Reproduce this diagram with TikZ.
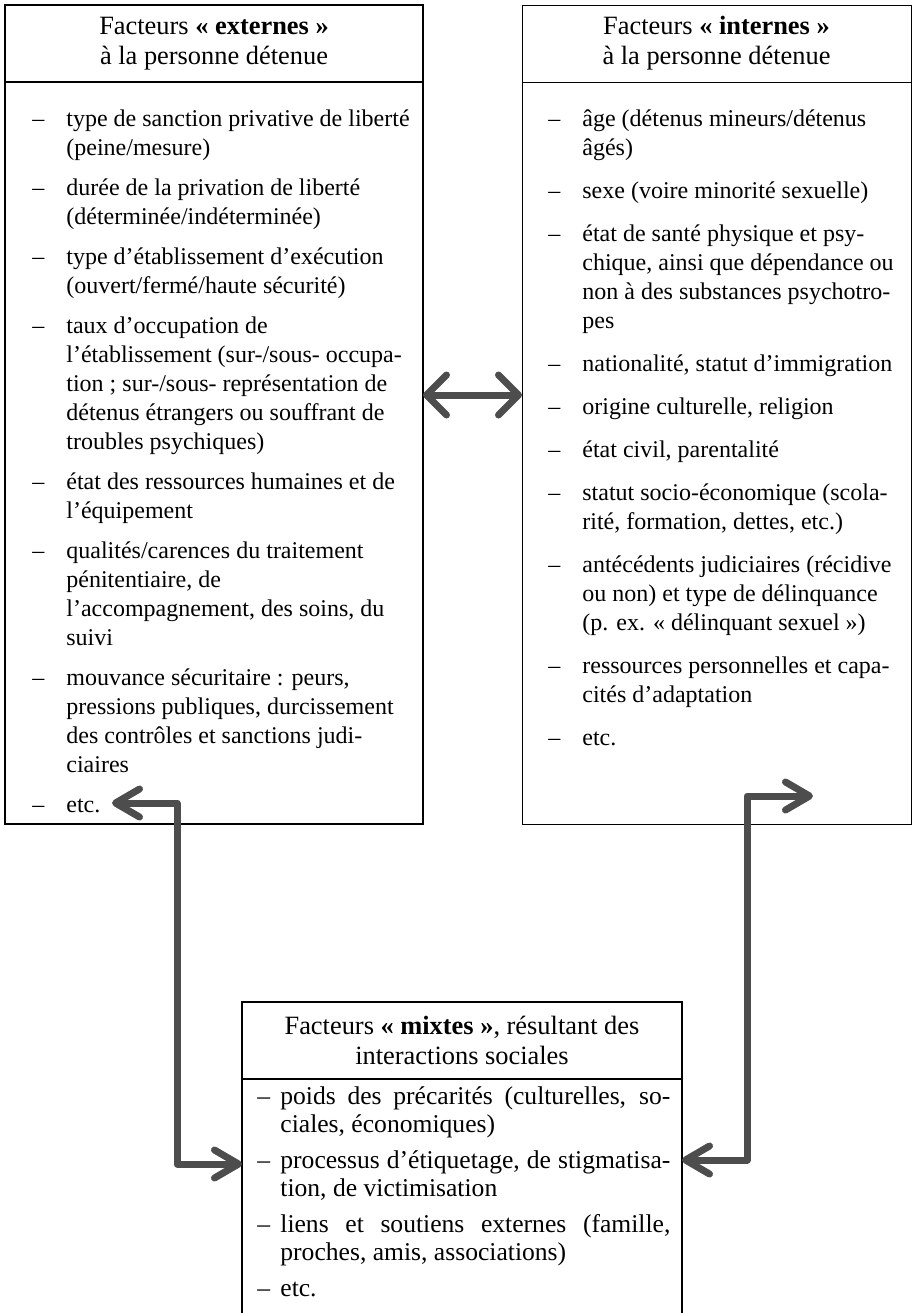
\documentclass[tikz,border=0pt]{standalone}
\usepackage{fontspec}
\setmainfont{Liberation Serif}
\usetikzlibrary{arrows.meta,calc}
\definecolor{arrowgray}{HTML}{4D4D4D}
\newcommand\dI{\makebox[17pt][l]{–}}
\newcommand\dC{\makebox[17pt][l]{}}
\newcommand\dM{\makebox[11.5pt][l]{–}}
\newcommand\dN{\makebox[11.5pt][l]{}}
\newcommand\jl[1]{\hbox to 195pt{#1}}
\begin{document}
\begin{tikzpicture}[x=0.5pt,y=-0.5pt,
  frame/.style={draw, line width=1pt, inner sep=0pt, outer sep=0pt, anchor=north west},
  thinframe/.style={frame, line width=0.5pt},
  sep/.style={line width=1pt},
  thinsep/.style={line width=0.5pt},
  title/.style={align=center, inner sep=0pt, font=\fontsize{13.2}{15}\selectfont},
  body/.style={inner sep=0pt, anchor=base west, font=\fontsize{12}{14.5}\selectfont},
  mbody/.style={inner sep=0pt, anchor=base west, font=\fontsize{12.8}{14}\selectfont},
  dbl/.style={draw=arrowgray, line width=3.5pt, line join=round,
    {Straight Barb[length=10pt,width=20pt,round]}-{Straight Barb[length=10pt,width=20pt,round]}},
  elb/.style={draw=arrowgray, line width=3.5pt, line join=round,
    {Straight Barb[length=12pt,width=14pt,round]}-{Straight Barb[length=12pt,width=14pt,round]}}
]
\useasboundingbox (0,0) rectangle (912,1313);

% boxes
\node[frame, minimum width=209pt, minimum height=409.5pt] (Lbox) at (5,5) {};
\node[thinframe, minimum width=194.5pt, minimum height=409.5pt] (Rbox) at (522,5) {};
\node[frame, minimum width=220pt, minimum height=200pt] (Mbox) at (242,1002) {};

\draw[sep] (Lbox.west |- 0,82) -- (Lbox.east |- 0,82);
\draw[thinsep] (Rbox.west |- 0,82) -- (Rbox.east |- 0,82);
\draw[sep] (Mbox.west |- 0,1079) -- (Mbox.east |- 0,1079);

% titles
\node[title] (Ltitle) at (214,43.5) {Facteurs \textbf{«~externes~»}\\à la personne détenue};
\node[title] (Rtitle) at (716.5,43.5) {Facteurs \textbf{«~internes~»}\\à la personne détenue};
\node[title] (Mtitle) at (462,1040.5) {Facteurs \textbf{«~mixtes~»}, résultant des\\interactions sociales};

% left body
\node[body] (Ltext) at (32,126) {\begin{minipage}[t]{240pt}\raggedright
\dI type de sanction privative de liberté\\
\dC (peine/mesure)\\[5.5pt]
\dI durée de la privation de liberté\\
\dC (déterminée/indéterminée)\\[5.5pt]
\dI type d’établissement d’exécution\\
\dC (ouvert/fermé/haute sécurité)\\[5.5pt]
\dI taux d’occupation de\\
\dC l’établissement (sur-/sous- occupa-\\
\dC tion ; sur-/sous- représentation de\\
\dC détenus étrangers ou souffrant de\\
\dC troubles psychiques)\\[5.5pt]
\dI état des ressources humaines et de\\
\dC l’équipement\\[5.5pt]
\dI qualités/carences du traitement\\
\dC pénitentiaire, de\\
\dC l’accompagnement, des soins, du\\
\dC suivi\\[5.5pt]
\dI mouvance sécuritaire : peurs,\\
\dC pressions publiques, durcissement\\
\dC des contrôles et sanctions judi-\\
\dC ciaires\\[5.5pt]
\dI etc.
\end{minipage}};

% right body
\node[body] (Rtext) at (548,126) {\begin{minipage}[t]{240pt}\raggedright
\dI âge (détenus mineurs/détenus\\
\dC âgés)\\[7pt]
\dI sexe (voire minorité sexuelle)\\[7pt]
\dI état de santé physique et psy-\\
\dC chique, ainsi que dépendance ou\\
\dC non à des substances psychotro-\\
\dC pes\\[7pt]
\dI nationalité, statut d’immigration\\[7pt]
\dI origine culturelle, religion\\[7pt]
\dI état civil, parentalité\\[7pt]
\dI statut socio-économique (scola-\\
\dC rité, formation, dettes, etc.)\\[7pt]
\dI antécédents judiciaires (récidive\\
\dC ou non) et type de délinquance\\
\dC (p. ex. «~délinquant sexuel~»)\\[7pt]
\dI ressources personnelles et capa-\\
\dC cités d’adaptation\\[7pt]
\dI etc.
\end{minipage}};

% bottom body
\node[mbody] (Mtext) at (257,1104) {\begin{minipage}[t]{240pt}\raggedright
\dM\jl{poids des précarités (culturelles, so-}\\
\dN ciales, économiques)\\[4pt]
\dM\jl{processus d’étiquetage, de stigmatisa-}\\
\dN tion, de victimisation\\[4pt]
\dM\jl{liens et soutiens externes (famille,}\\
\dN proches, amis, associations)\\[4pt]
\dM etc.
\end{minipage}};

% connectors
\coordinate (lt) at (112,803);
\coordinate (lbend) at (177,803);
\coordinate (rt) at (813,796);
\coordinate (rbend) at (747,796);

\draw[dbl] (Lbox.east |- 0,395) -- (Rbox.west |- 0,395);
\draw[elb] (lt) -- (lbend) |- (Mbox.west |- 0,1164);
\draw[elb] (rt) -- (rbend) |- (Mbox.east |- 0,1160);
\end{tikzpicture}
\end{document}
